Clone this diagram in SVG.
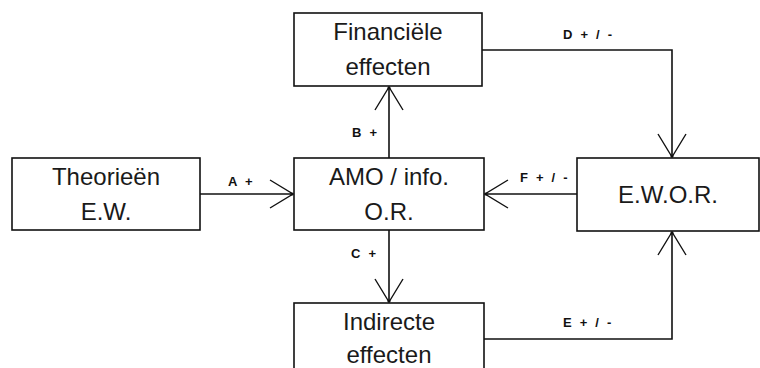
<svg xmlns="http://www.w3.org/2000/svg" width="760" height="368" viewBox="0 0 760 368">
<style>
.box{fill:#fff;stroke:#111;stroke-width:1.6}
.t{font-family:"Liberation Sans",Arial,sans-serif;font-size:24px;fill:#1a1a1a;text-anchor:middle}
.lbl{font-family:"Liberation Sans",Arial,sans-serif;font-size:13px;font-weight:bold;fill:#111;letter-spacing:2.2px}
.ln{fill:none;stroke:#111;stroke-width:1.6}
</style>
<defs>
<marker id="arr" markerUnits="userSpaceOnUse" markerWidth="30" markerHeight="32" viewBox="-26 -16 30 32" refX="0" refY="0" orient="auto" overflow="visible">
<path d="M-23,-14 L0,0 L-23,14" fill="none" stroke="#111" stroke-width="1.4"/>
<circle cx="-1" cy="0" r="1.6" fill="#111"/>
</marker>
</defs>
<rect width="760" height="368" fill="#fff"/>
<g id="connectors">
<path class="ln" d="M200,194 H293" marker-end="url(#arr)"/>
<path class="ln" d="M577,194 H485" marker-end="url(#arr)"/>
<path class="ln" d="M389,158 V87" marker-end="url(#arr)"/>
<path class="ln" d="M389,230 V302" marker-end="url(#arr)"/>
<path class="ln" d="M482,50 H672 V157" marker-end="url(#arr)"/>
<path class="ln" d="M484,339 H672 V232" marker-end="url(#arr)"/>
<text class="lbl" x="228" y="186">A +</text>
<text class="lbl" x="352" y="137">B +</text>
<text class="lbl" x="351" y="258">C +</text>
<text class="lbl" x="563" y="39">D + / -</text>
<text class="lbl" x="563" y="327">E + / -</text>
<text class="lbl" x="520" y="182">F + / -</text>
</g>
<g id="financiele">
<rect class="box" x="294" y="13" width="188" height="73"/>
<text class="t" x="388" y="40">Financiële</text>
<text class="t" x="388" y="75">effecten</text>
</g>
<g id="theorieen">
<rect class="box" x="12" y="158" width="188" height="72"/>
<text class="t" x="106" y="185">Theorieën</text>
<text class="t" x="106" y="220">E.W.</text>
</g>
<g id="amo">
<rect class="box" x="294" y="158" width="190" height="72"/>
<text class="t" x="389" y="185">AMO / info.</text>
<text class="t" x="389" y="220">O.R.</text>
</g>
<g id="ewor">
<rect class="box" x="577" y="158" width="182" height="73"/>
<text class="t" x="668" y="203">E.W.O.R.</text>
</g>
<g id="indirecte">
<rect class="box" x="294" y="303" width="190" height="70"/>
<text class="t" x="389" y="330">Indirecte</text>
<text class="t" x="389" y="363">effecten</text>
</g>
</svg>
